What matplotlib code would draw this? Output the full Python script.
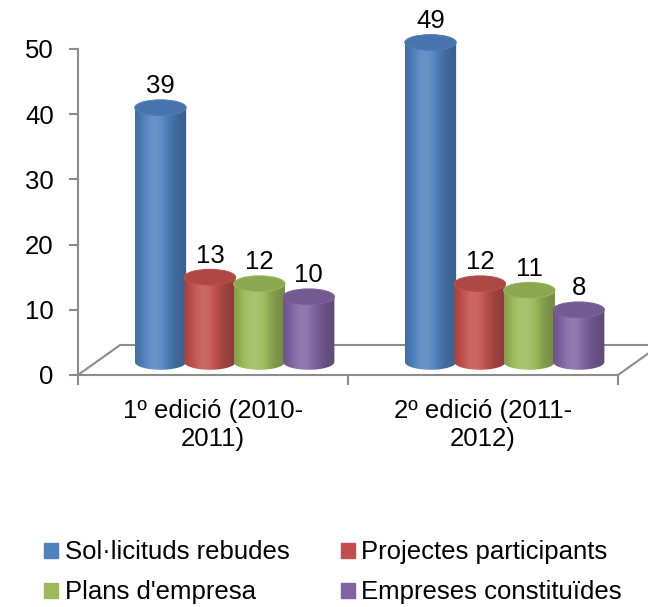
import numpy as np
import matplotlib
matplotlib.use('Agg')
import matplotlib.pyplot as plt
from matplotlib.patches import Ellipse, PathPatch, Rectangle
from matplotlib.path import Path

plt.rcParams['font.family'] = ['Liberation Sans', 'DejaVu Sans']

# data
categories = ['1º edició (2010-\n2011)', '2º edició (2011-\n2012)']
series_names = ['Sol·licituds rebudes', 'Projectes participants',
                'Plans d\'empresa', 'Empreses constituïdes']
values = [[39, 13, 12, 10],
          [49, 12, 11, 8]]
colors = ['#4F81BD', '#C0504D', '#9BBB59', '#8064A2']

# fake 3d settings (data units)
depth_dx, depth_dy = 0.156, 4.6     # full floor depth
bar_dx, bar_dy = 0.08, 2.0          # bars sit half way back
spacing, width = 0.183, 0.19
ell_h = 2.4
axis_col = '#8c8c8c'
fs = 18.5


def shade(c, t):
    rgb = np.array(matplotlib.colors.to_rgb(c))
    f = 0.74 + 0.40 * np.exp(-((t - 0.38) / 0.33) ** 2)
    out = []
    for v in f:
        if v < 1:
            out.append(rgb * v)
        else:
            out.append(rgb + (1 - rgb) * (v - 1))
    return np.clip(np.array(out), 0, 1)


fig = plt.figure(figsize=(6.48, 6.07), dpi=100)
ax = fig.add_axes([78 / 648, 232 / 607, 540 / 648, 56 * 6.52 / 607])

# floor edges
fx = [-0.5, -0.5 + depth_dx, 1.5 + depth_dx, 1.5]
fy = [0, depth_dy, depth_dy, 0]
ax.plot(fx, fy, color=axis_col, lw=1.5, clip_on=False, zorder=1)

t = np.linspace(0, 1, 60)
z = 3
for g, cat_vals in enumerate(values):
    for i, v in enumerate(cat_vals):
        xc = g + bar_dx + (i - 1.5) * spacing
        x0, x1 = xc - width / 2, xc + width / 2
        top = bar_dy + v
        # body outline: rectangle + lower half ellipse
        th = np.linspace(np.pi, 2 * np.pi, 40)
        arc_x = xc + width / 2 * np.cos(th)
        arc_y = bar_dy + ell_h / 2 * np.sin(th)
        vx = np.concatenate([[x0], arc_x, [x1, x0]])
        vy = np.concatenate([[top], arc_y, [top, top]])
        path = Path(np.column_stack([vx, vy]), closed=True)
        clip = PathPatch(path, facecolor='none', edgecolor='none', zorder=z)
        ax.add_patch(clip)
        img = shade(colors[i], t)[np.newaxis, :, :]
        im = ax.imshow(img, extent=(x0, x1, bar_dy - ell_h / 2, top),
                       aspect='auto', zorder=z, interpolation='bilinear')
        im.set_clip_path(clip)
        # top cap
        cap = np.array(matplotlib.colors.to_rgb(colors[i])) * 0.9
        ax.add_patch(Ellipse((xc, top), width, ell_h, facecolor=cap,
                             edgecolor=np.clip(cap * 1.08, 0, 1), lw=0.8,
                             zorder=z + 1))
        ax.text(xc, v + 4.2, str(v), ha='center', va='baseline',
                fontsize=fs, zorder=z + 2)
        z += 3

ax.set_xlim(-0.5, 1.5)
ax.set_ylim(0, 56)

for s in ['top', 'right']:
    ax.spines[s].set_visible(False)
ax.spines['left'].set_bounds(0, 50)
ax.spines['left'].set_color(axis_col)
ax.spines['bottom'].set_color(axis_col)
ax.spines['left'].set_linewidth(1.5)
ax.spines['bottom'].set_linewidth(1.5)

ax.set_yticks([0, 10, 20, 30, 40, 50])
ax.tick_params(axis='y', length=6.5, width=1.5, color=axis_col, labelsize=fs,
               pad=11)
ax.set_xticks([0, 1])
ax.set_xticklabels(categories, fontsize=fs, linespacing=1.25)
ax.tick_params(axis='x', which='major', length=0, pad=17)
ax.set_xticks([-0.5, 0.5, 1.5], minor=True)
ax.tick_params(axis='x', which='minor', length=7, width=1.5, color=axis_col)

# legend
handles = [Rectangle((0, 0), 1, 1, color=c) for c in colors]
order = [0, 2, 1, 3]
fig.legend([handles[k] for k in order], [series_names[k] for k in order],
           ncol=2, loc='upper left', bbox_to_anchor=(0.068, 0.1096),
           frameon=False, fontsize=fs, handlelength=0.55, handleheight=0.55,
           handletextpad=0.25, columnspacing=2.0, labelspacing=0.62,
           borderaxespad=0, borderpad=0)

plt.savefig('out.png', dpi=100)
